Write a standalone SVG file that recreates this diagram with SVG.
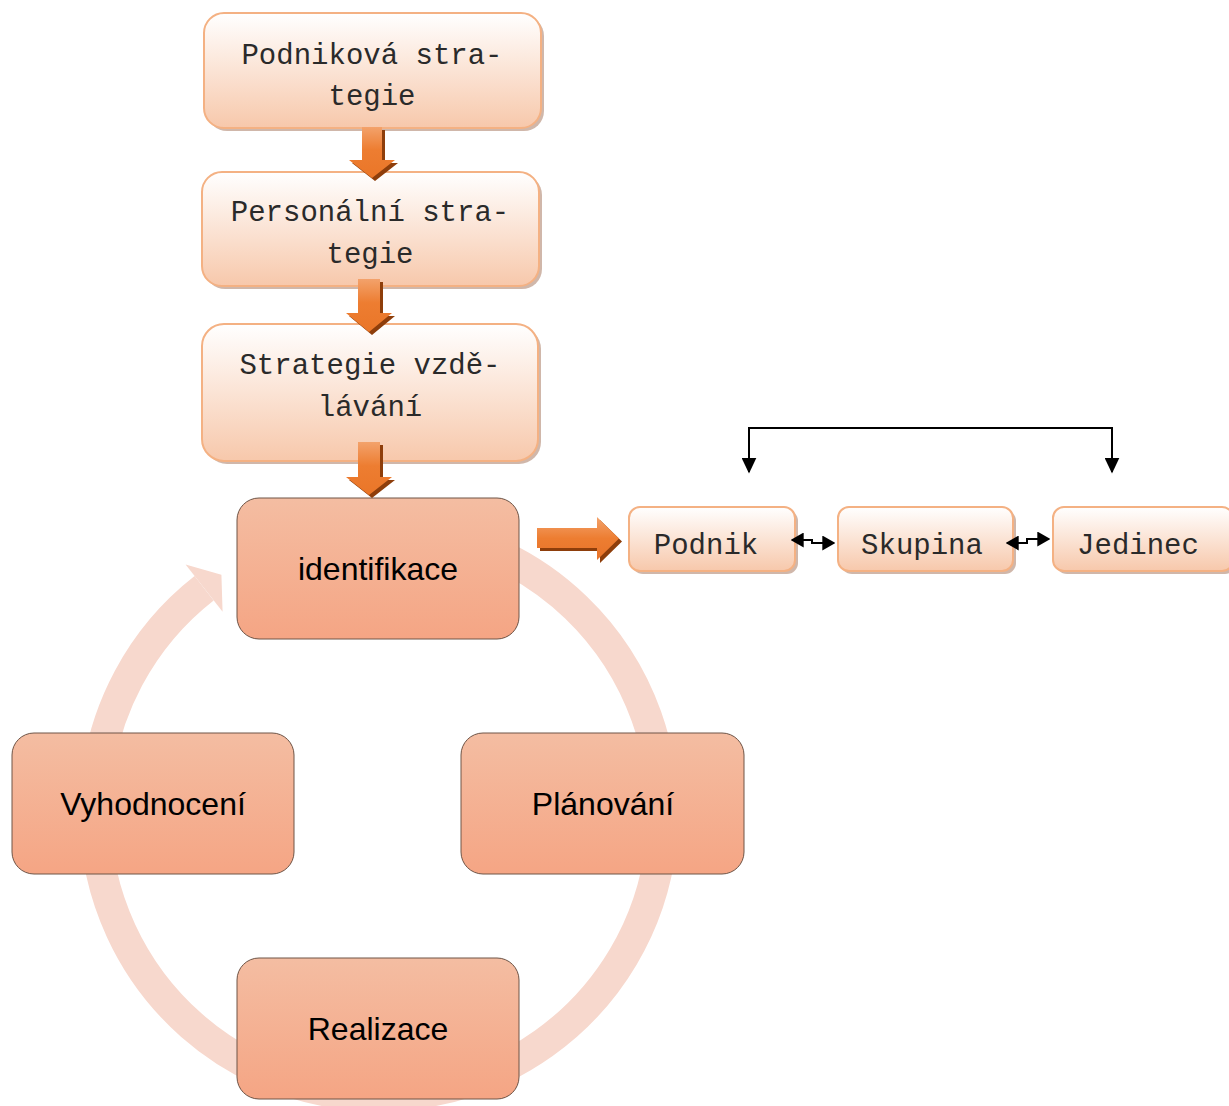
<svg xmlns="http://www.w3.org/2000/svg" width="1229" height="1106" viewBox="0 0 1229 1106">
<defs>
<style>
.mono{font-family:"Liberation Mono","Courier New",monospace;font-size:29px;fill:#2a2a2a;text-anchor:middle}
.sans{font-family:"Liberation Sans",Arial,sans-serif;font-size:32px;fill:#000;text-anchor:middle}
.pbox{fill:url(#gPale);stroke:#F4B183;stroke-width:2}
.pshadow{fill:#C4A595;opacity:0.8}
.cbox{fill:url(#gCycle);stroke:#6E5446;stroke-width:1}
.barrow{fill:url(#gArrow)}
.bshadow{fill:#8E3E0B}
.blk{fill:none;stroke:#000;stroke-width:2}
</style>
<linearGradient id="gPale" x1="0" y1="0" x2="0" y2="1">
<stop offset="0" stop-color="#FFFFFF"/>
<stop offset="1" stop-color="#F7C8AB"/>
</linearGradient>
<linearGradient id="gCycle" x1="0" y1="0" x2="0" y2="1">
<stop offset="0" stop-color="#F4BDA2"/>
<stop offset="1" stop-color="#F5A584"/>
</linearGradient>
<linearGradient id="gArrow" x1="0" y1="0" x2="0" y2="1">
<stop offset="0" stop-color="#F3A26B"/>
<stop offset="0.45" stop-color="#ED7D31"/>
<stop offset="1" stop-color="#EA7628"/>
</linearGradient>
<linearGradient id="gArrowH" x1="0" y1="0" x2="0" y2="1">
<stop offset="0" stop-color="#F3A26B"/>
<stop offset="0.5" stop-color="#ED7D31"/>
<stop offset="1" stop-color="#E8742A"/>
</linearGradient>
<marker id="mk" viewBox="0 0 10 10" refX="9" refY="5" markerWidth="13" markerHeight="15" orient="auto-start-reverse" markerUnits="userSpaceOnUse" preserveAspectRatio="none">
<path d="M0,0 L10,5 L0,10 Z" fill="#000"/>
</marker>
<marker id="mkd" viewBox="0 0 10 10" refX="9" refY="5" markerWidth="16" markerHeight="15" orient="auto-start-reverse" markerUnits="userSpaceOnUse" preserveAspectRatio="none">
<path d="M0,0 L10,5 L0,10 Z" fill="#000"/>
</marker>
</defs>

<rect width="1229" height="1106" fill="#FFFFFF"/>

<!-- cycle ring -->
<g id="cycle-ring">
<path d="M476.1,545.1 A284,284 0 1 1 204.1,588.2" fill="none" stroke="#F7D8CD" stroke-width="31"/>
<path d="M185.6,564.6 L221.4,574.7 L222.6,611.8 Z" fill="#F7D8CD"/>
</g>

<!-- top strategy boxes -->
<g id="n-podnikova">
<rect class="pshadow" x="207" y="16" width="337" height="115" rx="20"/>
<rect class="pbox" x="204" y="13" width="337" height="115" rx="20"/>
<text class="mono" x="372" y="64">Podniková stra-</text>
<text class="mono" x="372" y="105">tegie</text>
</g>
<g id="n-personalni">
<rect class="pshadow" x="205" y="175" width="337" height="114" rx="20"/>
<rect class="pbox" x="202" y="172" width="337" height="114" rx="20"/>
<text class="mono" x="370" y="221">Personální stra-</text>
<text class="mono" x="370" y="263">tegie</text>
</g>
<g id="n-vzdelavani">
<rect class="pshadow" x="205" y="327" width="336" height="137" rx="22"/>
<rect class="pbox" x="202" y="324" width="336" height="137" rx="22"/>
<text class="mono" x="370" y="374">Strategie vzdě-</text>
<text class="mono" x="370" y="416">lávání</text>
</g>

<!-- cycle boxes -->
<g id="n-identifikace">
<rect class="cbox" x="237" y="498" width="282" height="141" rx="22"/>
<text class="sans" x="378" y="580">identifikace</text>
</g>
<g id="n-vyhodnoceni">
<rect class="cbox" x="12" y="733" width="282" height="141" rx="22"/>
<text class="sans" x="153" y="815">Vyhodnocení</text>
</g>
<g id="n-planovani">
<rect class="cbox" x="461" y="733" width="283" height="141" rx="22"/>
<text class="sans" x="603" y="815">Plánování</text>
</g>
<g id="n-realizace">
<rect class="cbox" x="237" y="958" width="282" height="141" rx="22"/>
<text class="sans" x="378" y="1040">Realizace</text>
</g>

<!-- right boxes -->
<g id="n-podnik">
<rect class="pshadow" x="632" y="510" width="166" height="64" rx="11"/>
<rect class="pbox" x="629" y="507" width="166" height="64" rx="11"/>
<text class="mono" x="706" y="554">Podnik</text>
</g>
<g id="n-skupina">
<rect class="pshadow" x="841" y="510" width="175" height="64" rx="11"/>
<rect class="pbox" x="838" y="507" width="175" height="64" rx="11"/>
<text class="mono" x="922" y="554">Skupina</text>
</g>
<g id="n-jedinec">
<rect class="pshadow" x="1056" y="510" width="180" height="64" rx="11"/>
<rect class="pbox" x="1053" y="507" width="180" height="64" rx="11"/>
<text class="mono" x="1138" y="554">Jedinec</text>
</g>

<!-- connectors -->
<g id="connectors">
<path class="bshadow" d="M365,130 H385 V163 H398 L375,181 L352,163 H365 Z"/>
<path class="barrow" d="M362,127 H382 V160 H395 L372,178 L349,160 H362 Z"/>
<path class="bshadow" d="M361,282 H383 V316 H395 L372,335 L349,316 H361 Z"/>
<path class="barrow" d="M358,279 H380 V313 H392 L369,332 L346,313 H358 Z"/>
<path class="bshadow" d="M361,445 H383 V480 H395 L372,498 L349,480 H361 Z"/>
<path class="barrow" d="M358,442 H380 V477 H392 L369,495 L346,477 H358 Z"/>
<path class="bshadow" d="M540,531 H600 V520 L622,541.5 L600,563 V551 H540 Z"/>
<path fill="url(#gArrowH)" d="M537,528 H597 V517 L619,538.5 L597,560 V548 H537 Z"/>
<path class="blk" d="M749,472 V428 H1112 V472" marker-start="url(#mkd)" marker-end="url(#mkd)"/>
<path class="blk" d="M792,540 H812 V543 H834" marker-start="url(#mk)" marker-end="url(#mk)"/>
<path class="blk" d="M1007,543 H1027 V539 H1049" marker-start="url(#mk)" marker-end="url(#mk)"/>
</g>
</svg>
